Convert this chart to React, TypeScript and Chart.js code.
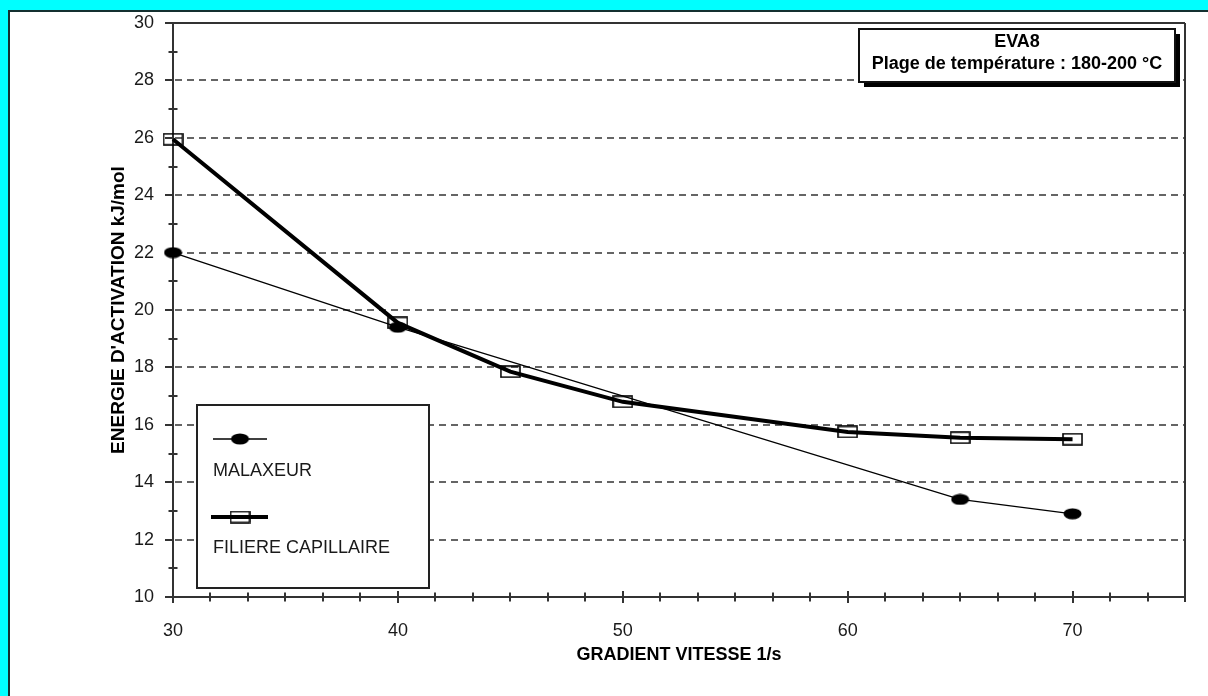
import React, { useEffect, useRef } from 'react';
import { Chart, registerables } from 'chart.js';

Chart.register(...registerables);

const FONT = '"Liberation Sans", Arial, Helvetica, sans-serif';

// ---- data ----
const gradientMalaxeur = [30, 40, 65, 70];
const energieMalaxeur = [22.0, 19.4, 13.4, 12.9];
const gradientFiliere = [30, 40, 45, 50, 60, 65, 70];
const energieFiliere = [25.95, 19.55, 17.85, 16.8, 15.75, 15.55, 15.5];
const seriesLabels = ['MALAXEUR', 'FILIERE CAPILLAIRE'];
const titleLines = ['EVA8', 'Plage de température : 180-200 °C'];
const xAxisTitle = 'GRADIENT VITESSE 1/s';
const yAxisTitle = "ENERGIE D'ACTIVATION kJ/mol";
const xRange = [30, 75];
const xMajorStep = 10;
const xMinorPerMajor = 6;
const yRange = [10, 30];
const yMajorStep = 2;
const yMinorPerMajor = 2;

const INK = '#1a1a1a';
const AXIS = '#333333';

function makeEllipse(w: number, h: number) {
  const c = document.createElement('canvas');
  c.width = w;
  c.height = h;
  const g = c.getContext('2d')!;
  g.fillStyle = '#000';
  g.beginPath();
  g.ellipse(w / 2, h / 2, w / 2 - 0.5, h / 2 - 0.5, 0, 0, Math.PI * 2);
  g.fill();
  return c;
}

function makeRect(w: number, h: number) {
  const c = document.createElement('canvas');
  c.width = w;
  c.height = h;
  const g = c.getContext('2d')!;
  g.strokeStyle = '#000';
  g.lineWidth = 1.6;
  g.strokeRect(1, 1, w - 2, h - 2);
  return c;
}

const framePlugin = {
  id: 'frameTicks',
  beforeDatasetsDraw(chart: any) {
    const { ctx, chartArea, scales } = chart;
    const { left, right, top, bottom } = chartArea;
    const x = scales.x;
    const y = scales.y;
    ctx.save();
    // dashed horizontal gridlines
    ctx.strokeStyle = AXIS;
    ctx.lineWidth = 1.5;
    ctx.setLineDash([7, 5]);
    y.ticks.forEach((t: any) => {
      if (t.value > y.min && t.value < y.max) {
        const py = Math.round(y.getPixelForValue(t.value));
        ctx.beginPath();
        ctx.moveTo(left + 2, py);
        ctx.lineTo(right, py);
        ctx.stroke();
      }
    });
    ctx.setLineDash([]);
    ctx.lineWidth = 2;
    ctx.strokeStyle = AXIS;
    // frame: top and right
    ctx.beginPath();
    ctx.moveTo(left - 8, top);
    ctx.lineTo(right, top);
    ctx.moveTo(right, top);
    ctx.lineTo(right, bottom + 5);
    ctx.stroke();
    // y ticks
    const yMinor = yMajorStep / yMinorPerMajor;
    const ny = Math.round((y.max - y.min) / yMinor);
    for (let i = 0; i <= ny; i++) {
      const v = y.min + i * yMinor;
      const py = Math.round(y.getPixelForValue(v));
      ctx.beginPath();
      if (i % yMinorPerMajor === 0) {
        ctx.moveTo(left - 8, py);
        ctx.lineTo(left, py);
      } else {
        ctx.moveTo(left - 4.5, py);
        ctx.lineTo(left + 4.5, py);
      }
      ctx.stroke();
    }
    // x ticks
    const xMinor = xMajorStep / xMinorPerMajor;
    const nx = Math.round((x.max - x.min) / xMinor);
    for (let i = 0; i <= nx; i++) {
      const v = x.min + i * xMinor;
      const px = Math.round(x.getPixelForValue(v));
      const h = i % xMinorPerMajor === 0 ? 6 : 4.5;
      ctx.beginPath();
      ctx.moveTo(px, bottom - h);
      ctx.lineTo(px, bottom + h);
      ctx.stroke();
    }
    ctx.restore();
  },
  afterDatasetsDraw(chart: any) {
    const { ctx } = chart;
    ctx.save();
    // ---- legend box ----
    const lb = { x: 197, y: 405, w: 232, h: 183 };
    ctx.fillStyle = '#fff';
    ctx.fillRect(lb.x, lb.y, lb.w, lb.h);
    ctx.strokeStyle = '#222';
    ctx.lineWidth = 2;
    ctx.strokeRect(lb.x, lb.y, lb.w, lb.h);
    const items = [
      { lineY: 439, textY: 471, x1: 213, x2: 267 },
      { lineY: 517, textY: 548, x1: 211, x2: 268 },
    ];
    chart.data.datasets.forEach((ds: any, i: number) => {
      const it = items[i];
      ctx.strokeStyle = ds.borderColor;
      ctx.lineWidth = ds.borderWidth;
      ctx.beginPath();
      ctx.moveTo(it.x1, it.lineY);
      ctx.lineTo(it.x2, it.lineY);
      ctx.stroke();
      const img = ds.pointStyle as HTMLCanvasElement;
      const cx = 240;
      ctx.drawImage(img, cx - img.width / 2, it.lineY - img.height / 2);
      ctx.fillStyle = INK;
      ctx.font = `18px ${FONT}`;
      ctx.textAlign = 'left';
      ctx.textBaseline = 'middle';
      ctx.fillText(ds.label, 213, it.textY);
    });
    // ---- title box ----
    const tb = { x: 859, y: 29, w: 316, h: 53 };
    ctx.fillStyle = '#000';
    ctx.fillRect(tb.x + 5, tb.y + 5, tb.w, tb.h);
    ctx.fillStyle = '#fff';
    ctx.fillRect(tb.x, tb.y, tb.w, tb.h);
    ctx.strokeStyle = '#111';
    ctx.lineWidth = 2;
    ctx.strokeRect(tb.x, tb.y, tb.w, tb.h);
    ctx.fillStyle = '#000';
    ctx.font = `bold 18px ${FONT}`;
    ctx.textAlign = 'center';
    ctx.textBaseline = 'middle';
    ctx.fillText(titleLines[0], tb.x + tb.w / 2, 42);
    ctx.fillText(titleLines[1], tb.x + tb.w / 2, 64);
    ctx.restore();
  },
};

export default function App() {
  const ref = useRef<HTMLCanvasElement | null>(null);

  useEffect(() => {
    if (!ref.current) return;
    const ellipse = makeEllipse(19, 12);
    const rect = makeRect(21, 13);
    const chart = new Chart(ref.current, {
      type: 'line',
      data: {
        datasets: [
          {
            label: seriesLabels[0],
            data: gradientMalaxeur.map((g, i) => ({ x: g, y: energieMalaxeur[i] })),
            borderColor: '#000',
            borderWidth: 1.3,
            pointStyle: ellipse as any,
            pointRadius: 6,
            tension: 0,
            fill: false,
            clip: false as any,
          },
          {
            label: seriesLabels[1],
            data: gradientFiliere.map((g, i) => ({ x: g, y: energieFiliere[i] })),
            borderColor: '#000',
            borderWidth: 4,
            pointStyle: rect as any,
            pointRadius: 6,
            tension: 0,
            fill: false,
            clip: false as any,
          },
        ],
      },
      options: {
        responsive: false,
        animation: false,
        events: [],
        layout: { padding: { left: 0, top: 23, right: 23, bottom: 0 } },
        plugins: {
          legend: { display: false },
          tooltip: { enabled: false },
          title: { display: false },
        },
        scales: {
          x: {
            type: 'linear',
            min: xRange[0],
            max: xRange[1],
            afterFit: (s: any) => {
              s.height = 99;
            },
            grid: {
              display: true,
              drawOnChartArea: false,
              drawTicks: true,
              tickLength: 20,
              color: 'rgba(0,0,0,0)',
              tickColor: 'rgba(0,0,0,0)',
            },
            border: { display: true, color: AXIS, width: 2 },
            ticks: {
              stepSize: xMajorStep,
              padding: 3,
              maxRotation: 0,
              autoSkip: false,
              color: INK,
              font: { family: FONT, size: 18 },
              callback: (v: any) => (Number(v) % xMajorStep === 0 ? String(v) : ''),
            },
            title: {
              display: true,
              text: xAxisTitle,
              color: '#000',
              font: { family: FONT, size: 18, weight: 'bold' },
              padding: { top: 0, bottom: 30 },
            },
          },
          y: {
            type: 'linear',
            min: yRange[0],
            max: yRange[1],
            afterFit: (s: any) => {
              s.width = 173;
            },
            grid: {
              display: true,
              drawOnChartArea: false,
              drawTicks: true,
              tickLength: 16,
              color: 'rgba(0,0,0,0)',
              tickColor: 'rgba(0,0,0,0)',
            },
            border: { display: true, color: AXIS, width: 2 },
            ticks: {
              stepSize: yMajorStep,
              padding: 3,
              color: INK,
              font: { family: FONT, size: 18 },
            },
            title: {
              display: true,
              text: yAxisTitle,
              color: '#000',
              font: { family: FONT, size: 19, weight: 'bold' },
              padding: { top: 107, bottom: 0 },
            },
          },
        },
      } as any,
      plugins: [framePlugin],
    });
    return () => chart.destroy();
  }, []);

  return (
    <div
      style={{
        position: 'fixed',
        left: 0,
        top: 0,
        width: 1208,
        height: 696,
        background: '#00FFFF',
        overflow: 'hidden',
      }}
    >
      <div
        style={{
          position: 'absolute',
          left: 8,
          top: 10,
          right: 0,
          bottom: 0,
          background: '#ffffff',
          borderLeft: '2px solid #143030',
          borderTop: '2px solid #143030',
        }}
      />
      <canvas
        ref={ref}
        width={1208}
        height={696}
        style={{ position: 'absolute', left: 0, top: 0, width: 1208, height: 696 }}
      />
    </div>
  );
}
